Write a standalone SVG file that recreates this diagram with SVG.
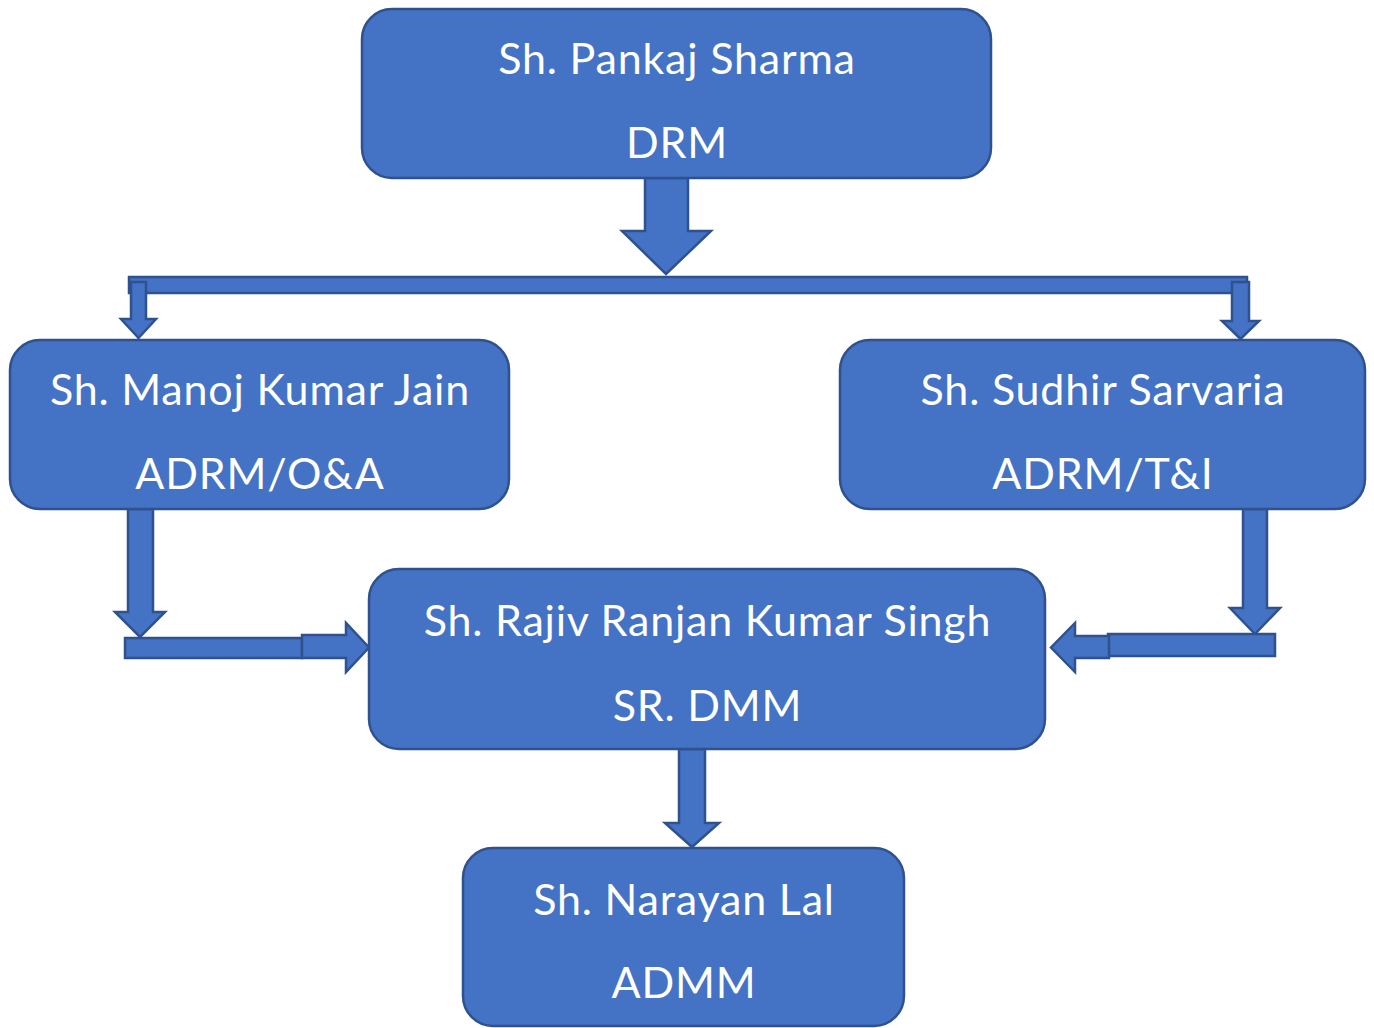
<svg xmlns="http://www.w3.org/2000/svg" width="1374" height="1028" viewBox="0 0 1374 1028">
<style>
.box{fill:#4472C4;stroke:#2F528F;stroke-width:2.5}
.conn{fill:#4472C4;stroke:#2F528F;stroke-width:2.5;stroke-linejoin:miter}
.t{fill:#FFFFFF;font-family:Lato,"Open Sans","Liberation Sans",sans-serif;font-size:43px;letter-spacing:0.8px;text-anchor:middle}
</style>
<rect x="0" y="0" width="1374" height="1028" fill="#FFFFFF"/>
<g id="connectors">
  <polygon class="conn" points="645,178 688,178 688,231 711,231 666,274 622,231 645,231"/>
  <rect class="conn" x="129" y="277" width="1118" height="16"/>
  <polygon class="conn" points="131,282 146,282 146,319 156,319 138.5,338 121,319 131,319"/>
  <polygon class="conn" points="1232,282 1249,282 1249,321 1259,321 1240.5,339 1222,321 1232,321"/>
  <polygon class="conn" points="128,509 153,509 153,612 165,612 140,637 115,612 128,612"/>
  <rect class="conn" x="125" y="638" width="177" height="20"/>
  <polygon class="conn" points="302,635 346,635 346,623 369,647.5 346,672 346,658 302,658"/>
  <polygon class="conn" points="1243,509 1267,509 1267,608 1280,608 1255,634 1230,608 1243,608"/>
  <rect class="conn" x="1108" y="634" width="167" height="22"/>
  <polygon class="conn" points="1109,636 1075,636 1075,623 1051,647.5 1075,672 1075,658 1109,658"/>
  <polygon class="conn" points="679,749 705,749 705,823 719,823 692,847 665,823 679,823"/>
</g>
<g id="node-drm">
  <rect class="box" x="362" y="9" width="629" height="169" rx="30"/>
  <text class="t" x="677" y="74">Sh. Pankaj Sharma</text>
  <text class="t" x="677" y="158">DRM</text>
</g>
<g id="node-adrm-oa">
  <rect class="box" x="10" y="340" width="499" height="169" rx="30"/>
  <text class="t" x="260" y="405">Sh. Manoj Kumar Jain</text>
  <text class="t" x="260" y="489">ADRM/O&amp;A</text>
</g>
<g id="node-adrm-ti">
  <rect class="box" x="840" y="340" width="525" height="169" rx="30"/>
  <text class="t" x="1103" y="405">Sh. Sudhir Sarvaria</text>
  <text class="t" x="1103" y="489">ADRM/T&amp;I</text>
</g>
<g id="node-srdmm">
  <rect class="box" x="369" y="569" width="676" height="180" rx="30"/>
  <text class="t" x="707.5" y="636">Sh. Rajiv Ranjan Kumar Singh</text>
  <text class="t" x="707.5" y="721">SR. DMM</text>
</g>
<g id="node-admm">
  <rect class="box" x="463" y="848" width="441" height="178" rx="30"/>
  <text class="t" x="684" y="915">Sh. Narayan Lal</text>
  <text class="t" x="684" y="998">ADMM</text>
</g>
</svg>
